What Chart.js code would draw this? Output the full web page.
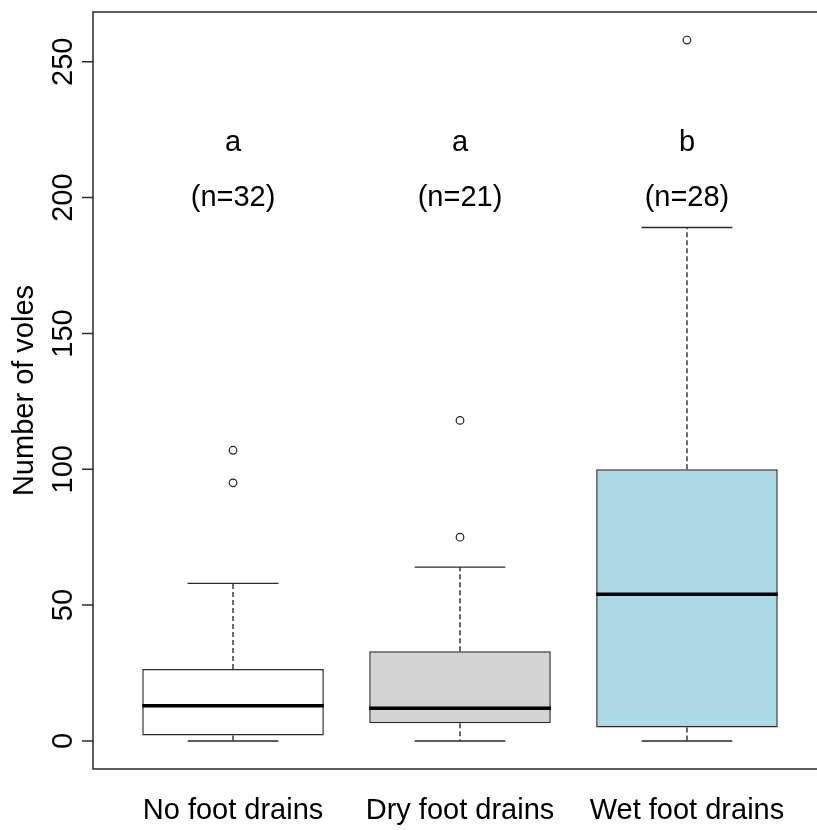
<!DOCTYPE html>
<html>
<head>
<meta charset="utf-8">
<script src="https://cdn.jsdelivr.net/npm/chart.js@4/dist/chart.umd.min.js"></script>
<style>
  html, body { margin: 0; padding: 0; background: #fff; overflow: hidden; }
  #wrap { width: 845px; height: 830px; }
</style>
</head>
<body>
<div id="wrap"><canvas id="chart" width="845" height="830"></canvas></div>
<script>
// ====== DATA ======
const groups      = ['No foot drains', 'Dry foot drains', 'Wet foot drains'];
const letters     = ['a', 'a', 'b'];
const nLabels     = ['(n=32)', '(n=21)', '(n=28)'];
const whiskerLow  = [0, 0, 0];
const q1          = [2, 6.5, 5];
const medians     = [13, 12, 54];
const q3          = [26.5, 33, 100];
const whiskerHigh = [58, 64, 189];
const outliers    = [[107, 95], [118, 75], [258]];
const yTicks      = [0, 50, 100, 150, 200, 250];

// ====== STYLE ======
const boxColors = ['#ffffff', '#d3d3d3', '#add8e6'];
const LINE      = '#2a2a2a';
const FONT      = '"Liberation Sans", Arial, sans-serif';
const FONT_PX   = 29;
const LETTER_Y  = 220;   // where R's text() put the group letters
const N_Y       = 200;   // and the sample sizes
const CAP_HALF  = 0.2;   // whisker cap half-width (x units)
const BOX_HALF  = 0.4;

// positions on the x axis: 1..n
const xs = groups.map((g, i) => i + 1);

const boxData = xs.map((x, i) => ({ x, y: [q1[i], q3[i]] }));
const outData = [];
outliers.forEach((arr, i) => arr.forEach(v => outData.push({ x: xs[i], y: v })));

// ====== R-STYLE DECORATIONS ======
const rStyle = {
  id: 'rStyle',
  beforeDatasetsDraw(chart) {
    const { ctx, scales: { x, y } } = chart;
    ctx.save();
    ctx.strokeStyle = LINE;
    ctx.lineWidth = 1.4;
    xs.forEach((xv, i) => {
      const px = x.getPixelForValue(xv);
      // dashed whiskers
      ctx.setLineDash([5, 3]);
      ctx.beginPath();
      ctx.moveTo(px, y.getPixelForValue(q3[i]));
      ctx.lineTo(px, y.getPixelForValue(whiskerHigh[i]));
      ctx.moveTo(px, y.getPixelForValue(q1[i]));
      ctx.lineTo(px, y.getPixelForValue(whiskerLow[i]));
      ctx.stroke();
      // caps
      ctx.setLineDash([]);
      ctx.beginPath();
      [whiskerHigh[i], whiskerLow[i]].forEach(v => {
        const py = y.getPixelForValue(v);
        ctx.moveTo(x.getPixelForValue(xv - CAP_HALF), py);
        ctx.lineTo(x.getPixelForValue(xv + CAP_HALF), py);
      });
      ctx.stroke();
    });
    ctx.restore();
  },
  afterDatasetsDraw(chart) {
    const { ctx, chartArea: a, scales: { x, y } } = chart;
    ctx.save();

    // medians
    ctx.strokeStyle = '#000';
    ctx.lineWidth = 3.5;
    xs.forEach((xv, i) => {
      const py = y.getPixelForValue(medians[i]);
      ctx.beginPath();
      ctx.moveTo(x.getPixelForValue(xv - BOX_HALF), py);
      ctx.lineTo(x.getPixelForValue(xv + BOX_HALF), py);
      ctx.stroke();
    });

    // plot frame
    ctx.strokeStyle = LINE;
    ctx.lineWidth = 1.5;
    ctx.strokeRect(a.left, a.top, a.right - a.left, a.bottom - a.top);

    // y ticks + rotated labels
    ctx.fillStyle = '#000';
    ctx.font = FONT_PX + 'px ' + FONT;
    ctx.textAlign = 'center';
    ctx.textBaseline = 'middle';
    ctx.beginPath();
    yTicks.forEach(t => {
      const py = y.getPixelForValue(t);
      ctx.moveTo(a.left, py);
      ctx.lineTo(a.left - 11, py);
    });
    ctx.stroke();
    yTicks.forEach(t => {
      ctx.save();
      ctx.translate(64, y.getPixelForValue(t));
      ctx.rotate(-Math.PI / 2);
      ctx.fillText(String(t), 0, 0);
      ctx.restore();
    });

    // y title
    ctx.save();
    ctx.translate(25, (a.top + a.bottom) / 2);
    ctx.rotate(-Math.PI / 2);
    ctx.fillText('Number of voles', 0, 0);
    ctx.restore();

    // group names + annotations
    xs.forEach((xv, i) => {
      const px = x.getPixelForValue(xv);
      ctx.fillText(groups[i], px, 811);
      ctx.fillText(letters[i], px, y.getPixelForValue(LETTER_Y));
      ctx.fillText(nLabels[i], px, y.getPixelForValue(N_Y));
    });

    ctx.restore();
  }
};

// ====== CHART ======
new Chart(document.getElementById('chart').getContext('2d'), {
  type: 'bar',
  data: {
    datasets: [
      {
        type: 'scatter',
        data: outData,
        pointStyle: 'circle',
        pointRadius: 3.8,
        pointBackgroundColor: '#fff',
        pointBorderColor: '#222',
        pointBorderWidth: 1.2
      },
      {
        data: boxData,
        backgroundColor: boxColors,
        borderColor: LINE,
        borderWidth: 1.5,
        borderSkipped: false,
        barPercentage: BOX_HALF * 2,
        categoryPercentage: 1.0
      }
    ]
  },
  options: {
    responsive: false,
    animation: false,
    layout: { padding: { left: 93, top: 12, right: 18, bottom: 61 } },
    plugins: { legend: { display: false }, tooltip: { enabled: false } },
    scales: {
      x: {
        type: 'linear', display: false, offset: false, min: 0.383, max: 3.617,
        // one tick per group so the bar width follows the group spacing
        afterBuildTicks: s => { s.ticks = xs.map(v => ({ value: v })); }
      },
      y: { type: 'linear', display: false, min: -10.32, max: 268.32 }
    }
  },
  plugins: [rStyle]
});
</script>
</body>
</html>
